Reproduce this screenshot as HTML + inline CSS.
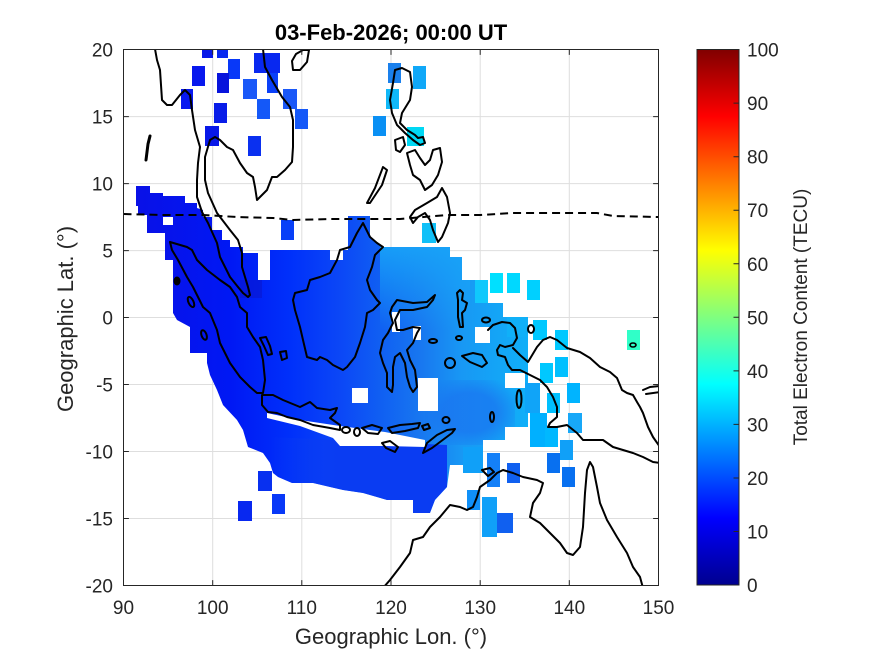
<!DOCTYPE html>
<html><head><meta charset="utf-8"><style>
html,body{margin:0;padding:0;background:#fff;}
svg{display:block;font-family:"Liberation Sans",Arial,sans-serif;}
</style></head><body>
<svg width="875" height="656" viewBox="0 0 875 656" xmlns="http://www.w3.org/2000/svg">
<defs>
<linearGradient id="jet" x1="0" y1="1" x2="0" y2="0">
<stop offset="0" stop-color="#00008f"/>
<stop offset="0.125" stop-color="#0000ff"/>
<stop offset="0.375" stop-color="#00ffff"/>
<stop offset="0.625" stop-color="#ffff00"/>
<stop offset="0.875" stop-color="#ff0000"/>
<stop offset="1" stop-color="#800000"/>
</linearGradient>
<linearGradient id="blobg" gradientUnits="userSpaceOnUse" x1="130" y1="0" x2="530" y2="0">
<stop offset="0" stop-color="#0a10e6"/>
<stop offset="0.25" stop-color="#0018f4"/>
<stop offset="0.40" stop-color="#0030fa"/>
<stop offset="0.53" stop-color="#0c48f6"/>
<stop offset="0.63" stop-color="#1060f2"/>
<stop offset="0.73" stop-color="#1878f0"/>
<stop offset="0.83" stop-color="#1898f4"/>
<stop offset="1" stop-color="#10b0f8"/>
</linearGradient>
<linearGradient id="neg" gradientUnits="userSpaceOnUse" x1="0" y1="247" x2="0" y2="330">
<stop offset="0" stop-color="#18a4f8" stop-opacity="0.9"/>
<stop offset="1" stop-color="#18a4f8" stop-opacity="0"/>
</linearGradient>
<linearGradient id="southg" gradientUnits="userSpaceOnUse" x1="270" y1="0" x2="340" y2="0">
<stop offset="0" stop-color="#0a3cf2" stop-opacity="0"/>
<stop offset="1" stop-color="#0a3cf2" stop-opacity="1"/>
</linearGradient>
<radialGradient id="eastg" cx="0.5" cy="0.5" r="0.6">
<stop offset="0.5" stop-color="#1a72f0" stop-opacity="0.7"/>
<stop offset="1" stop-color="#1a72f0" stop-opacity="0"/>
</radialGradient>
<clipPath id="plotclip"><rect x="123.5" y="49.5" width="535" height="536"/></clipPath>
<clipPath id="blobclip"><polygon points="136,186 150,186 150,193 163,193 163,196 185,196 185,203 197,203 197,208 203,210 203,217 212,217 212,230 222,230 222,240 230,240 230,247 243,247 243,253 258,253 258,280 270,280 270,250 330,250 330,260 343,260 343,250 348,250 348,216 370,216 370,238 377,243 383,247 450,247 450,257 462,257 462,280 475,280 475,303 503,303 503,317 528,317 528,383 540,383 540,413 528,413 528,427 505,427 505,440 483,440 483,473 463,473 463,465 450,465 447,487 435,500 430,513 413,513 413,500 387,500 363,493 343,490 330,487 313,483 292,483 278,477 273,473 270,463 263,453 248,447 243,430 237,420 223,405 217,390 210,375 207,363 207,353 190,353 190,327 177,320 173,313 173,260 165,260 165,233 147,233 147,215 138,215 138,206 136,206"/></clipPath>
</defs>
<rect width="875" height="656" fill="#fff"/>

<!-- grid -->
<g stroke="#dedede" stroke-width="1">
<line x1="212.7" y1="49.5" x2="212.7" y2="585.5"/>
<line x1="301.8" y1="49.5" x2="301.8" y2="585.5"/>
<line x1="391" y1="49.5" x2="391" y2="585.5"/>
<line x1="480.2" y1="49.5" x2="480.2" y2="585.5"/>
<line x1="569.3" y1="49.5" x2="569.3" y2="585.5"/>
<line x1="123.5" y1="116.6" x2="658.5" y2="116.6"/>
<line x1="123.5" y1="183.6" x2="658.5" y2="183.6"/>
<line x1="123.5" y1="250.6" x2="658.5" y2="250.6"/>
<line x1="123.5" y1="317.5" x2="658.5" y2="317.5"/>
<line x1="123.5" y1="384.5" x2="658.5" y2="384.5"/>
<line x1="123.5" y1="451.5" x2="658.5" y2="451.5"/>
<line x1="123.5" y1="518.5" x2="658.5" y2="518.5"/>
</g>

<g clip-path="url(#plotclip)">
<!-- main blob -->
<g clip-path="url(#blobclip)">
<rect x="123" y="180" width="420" height="340" fill="url(#blobg)"/>
<rect x="380" y="247" width="90" height="90" fill="url(#neg)"/>
<rect x="425" y="380" width="90" height="65" fill="url(#eastg)"/>
<polygon points="270,437 447,445 447,487 435,500 430,513 413,513 413,500 387,500 363,493 343,490 330,487 313,483 292,483 270,483" fill="url(#southg)"/>
<rect x="240" y="280" width="22" height="18" fill="#0a14c8" opacity="0.5"/>
</g>
<!-- holes -->
<g fill="#fff">
<rect x="352" y="388" width="16" height="15"/>
<rect x="418" y="378" width="20" height="33"/>
<polygon points="267,413 300,420 340,426 385,432 425,440 425,447 385,446 340,446 333,438 300,426 267,418"/>
<rect x="392" y="312" width="8" height="20"/>
<rect x="413" y="326" width="8" height="14"/>
<rect x="475" y="327" width="15" height="16"/>
<rect x="505" y="373" width="20" height="15"/>
<rect x="163" y="217" width="10" height="8"/>
</g>
<!-- isolated squares -->
<g>
<rect x="202" y="49" width="11" height="9" fill="#0818e8"/>
<rect x="217" y="49" width="11" height="9" fill="#0828f0"/>
<rect x="192" y="66" width="13" height="20" fill="#0818ee"/>
<rect x="228" y="59" width="12" height="20" fill="#0838f8"/>
<rect x="217" y="73" width="12" height="20" fill="#0814dc"/>
<rect x="254" y="53" width="26" height="20" fill="#0828f0"/>
<rect x="243" y="79" width="14" height="20" fill="#1a58f8"/>
<rect x="267" y="73" width="11" height="20" fill="#0a40f8"/>
<rect x="181" y="89" width="12" height="20" fill="#0818f0"/>
<rect x="257" y="99" width="13" height="20" fill="#1458f8"/>
<rect x="283" y="89" width="14" height="20" fill="#1a58f8"/>
<rect x="214" y="103" width="13" height="20" fill="#081ce8"/>
<rect x="295" y="109" width="13" height="20" fill="#1458f8"/>
<rect x="205" y="126" width="14" height="20" fill="#0818e8"/>
<rect x="248" y="136" width="13" height="20" fill="#0a30f0"/>
<rect x="388" y="63" width="13" height="20" fill="#1a80ec"/>
<rect x="413" y="66" width="13" height="23" fill="#10a8f8"/>
<rect x="386" y="89" width="13" height="20" fill="#10b8f8"/>
<rect x="373" y="116" width="13" height="20" fill="#0a90f4"/>
<rect x="407" y="127" width="17" height="19" fill="#00d8f4"/>
<rect x="422" y="223" width="14" height="20" fill="#10c0f8"/>
<rect x="281" y="220" width="13" height="20" fill="#0840f8"/>
<rect x="258" y="471" width="14" height="20" fill="#0830f0"/>
<rect x="272" y="494" width="13" height="20" fill="#0838f8"/>
<rect x="238" y="501" width="14" height="20" fill="#0828f0"/>
<rect x="475" y="280" width="13" height="23" fill="#10c8fc"/>
<rect x="490" y="273" width="13" height="20" fill="#00e0ff"/>
<rect x="507" y="273" width="13" height="20" fill="#00d8ff"/>
<rect x="527" y="280" width="13" height="20" fill="#00d0ff"/>
<rect x="507" y="317" width="21" height="20" fill="#10b0f8"/>
<rect x="533" y="320" width="14" height="20" fill="#00c8ff"/>
<rect x="555" y="330" width="13" height="20" fill="#00c8ff"/>
<rect x="540" y="363" width="13" height="20" fill="#00c8ff"/>
<rect x="555" y="357" width="13" height="20" fill="#00c0ff"/>
<rect x="567" y="383" width="13" height="20" fill="#00b4ff"/>
<rect x="525" y="383" width="15" height="30" fill="#10a4f8"/>
<rect x="547" y="393" width="13" height="20" fill="#00c0ff"/>
<rect x="530" y="413" width="17" height="34" fill="#00b0ff"/>
<rect x="545" y="427" width="13" height="20" fill="#00b8ff"/>
<rect x="568" y="413" width="14" height="20" fill="#18a8f8"/>
<rect x="560" y="440" width="13" height="20" fill="#10a0f8"/>
<rect x="547" y="453" width="13" height="20" fill="#0870f0"/>
<rect x="562" y="467" width="13" height="20" fill="#0870f0"/>
<rect x="627" y="330" width="13" height="20" fill="#30ffc8"/>
<rect x="487" y="453" width="13" height="34" fill="#1480f8"/>
<rect x="507" y="463" width="13" height="20" fill="#1060f0"/>
<rect x="463" y="447" width="20" height="26" fill="#10a0f8"/>
<rect x="467" y="490" width="13" height="20" fill="#1090f8"/>
<rect x="482" y="497" width="15" height="40" fill="#10a0f8"/>
<rect x="497" y="513" width="16" height="20" fill="#1060f0"/>
</g>

<!-- coastlines -->
<g fill="none" stroke="#000" stroke-width="2" stroke-linejoin="round" stroke-linecap="round">
<path d="M155,49 L157,60 L160,70 L162,100 L167,105 L172,105 L180,95 L185,90 L190,95 L192,110 L195,130 L200,147 L198,163 L197,180 L197,197 L202,212 L208,223 L217,243 L220,257 L225,267 L230,277 L238,287 L243,293 L248,297 L250,295 L248,287 L245,277 L242,267 L242,253 L238,240 L230,230 L217,213 L208,193 L205,180 L205,157 L210,140 L215,137 L220,140 L227,147 L233,150 L240,163 L247,173 L253,177 L255,187 L257,200 L260,197 L267,190 L272,177 L277,177 L285,170 L292,162 L293,147 L293,120 L290,107 L282,97 L272,80 L265,67 L263,49"/>
<path d="M292,61 L296,54 L303,50 L309,50 L307,62 L300,70 L293,70 Z"/>
<path d="M150,136 L148,144 L146,160" stroke-width="3"/>
<path d="M170,242 L187,247 L192,250 L197,260 L207,270 L220,280 L230,287 L237,297 L240,307 L247,313 L247,327 L253,337 L260,347 L263,360 L265,380 L263,393 L257,393 L250,387 L240,377 L230,363 L220,343 L217,330 L210,313 L203,307 L193,287 L187,277 L178,260 L172,250 Z"/>
<ellipse cx="177" cy="281" rx="2.5" ry="3.5" fill="#000"/>
<ellipse cx="191" cy="302" rx="2.5" ry="5.5" transform="rotate(-25 191 302)"/>
<ellipse cx="204" cy="335" rx="2.5" ry="5" transform="rotate(-20 204 335)"/>
<path d="M260,338 L266,337 L270,346 L272,354 L268,355 L264,346 Z"/>
<path d="M280,352 L286,351 L287,358 L282,360 Z"/>
<path d="M262,395 L273,395 L283,400 L300,407 L310,402 L317,408 L330,410 L337,408 L335,413 L330,418 L340,425 L340,430 L330,428 L313,425 L300,420 L287,417 L277,413 L268,412 L262,405 Z"/>
<ellipse cx="346" cy="430" rx="4" ry="3"/>
<ellipse cx="357" cy="432" rx="3" ry="4"/>
<path d="M362,428 L372,425 L382,428 L378,434 L368,433 Z"/>
<path d="M388,428 L400,425 L412,424 L420,423 L418,428 L405,431 L392,433 Z"/>
<path d="M422,426 L428,424 L430,428 L424,430 Z"/>
<path d="M382,443 L390,441 L398,447 L395,452 L386,448 Z"/>
<path d="M423,453 L427,443 L437,435 L447,430 L455,429 L452,433 L440,442 L432,448 Z"/>
<path d="M363,223 L370,237 L377,243 L383,247 L375,255 L372,267 L367,280 L370,290 L377,300 L380,303 L373,310 L367,313 L365,327 L360,343 L355,357 L347,367 L343,370 L333,365 L327,360 L320,357 L317,360 L307,357 L303,340 L300,327 L295,310 L293,300 L295,293 L307,290 L310,280 L320,277 L330,273 L337,260 L340,250 L350,247 L357,233 Z"/>
<path d="M435,295 L427,302 L413,303 L397,300 L392,307 L390,313 L393,323 L388,333 L383,340 L380,353 L383,363 L387,373 L387,387 L392,392 L393,385 L393,367 L395,357 L400,353 L405,363 L407,377 L410,387 L413,392 L417,387 L415,370 L410,360 L407,350 L413,343 L417,333 L420,328 L413,327 L403,330 L397,330 L395,320 L400,310 L413,310 L427,307 L433,300 Z"/>
<path d="M460,290 L463,293 L462,300 L467,303 L465,310 L462,313 L463,327 L460,327 L458,317 L458,300 L457,293 Z"/>
<ellipse cx="486" cy="320" rx="4" ry="2.5"/>
<ellipse cx="531" cy="329" rx="3" ry="4"/>
<ellipse cx="459" cy="338" rx="3" ry="2"/>
<ellipse cx="433" cy="341" rx="4" ry="2"/>
<ellipse cx="450" cy="363" rx="5" ry="5"/>
<path d="M462,356 L473,353 L482,355 L487,363 L482,367 L470,362 Z"/>
<ellipse cx="519" cy="399" rx="2.5" ry="9"/>
<ellipse cx="492" cy="417" rx="2" ry="5"/>
<ellipse cx="446" cy="420" rx="3.5" ry="3"/>
<ellipse cx="633" cy="345" rx="3" ry="2" stroke-width="1.6"/>
<path d="M488,330 L493,325 L502,322 L510,323 L515,328 L517,338 L513,345 L505,347 L500,345 L497,350 L498,355 L505,357 L508,365 L512,370 L520,370 L530,375 L540,380 L547,387 L553,397 L557,407 L557,417 L550,423 L548,427 L557,427 L567,425 L577,433 L583,440 L593,440 L603,440 L613,447 L623,450 L633,453 L643,457 L653,462 L660,463"/>
<path d="M513,348 L520,355 L528,362 L537,347 L543,340 L550,337 L557,340 L567,348 L580,352 L590,358 L600,367 L610,372 L617,378 L622,390 L627,393 L633,395 L637,402 L640,407 L643,413 L648,427 L653,437 L660,447"/>
<path d="M643,390 L650,387 L660,386 M646,394 L660,392"/>
<path d="M383,588 L390,580 L400,567 L410,553 L413,540 L423,537 L430,527 L440,517 L450,505 L460,507 L467,510 L473,507 L477,497 L480,487 L490,480 L497,473 L503,470 L513,473 L523,477 L537,480 L543,483 L540,493 L533,503 L530,517 L540,523 L550,533 L560,543 L567,553 L573,555 L580,547 L583,527 L585,493 L587,470 L590,462 L593,467 L597,487 L600,503 L607,520 L617,537 L627,553 L633,567 L640,577 L643,588"/>
<path d="M482,470 L490,468 L494,472 L488,476 Z"/>
<path d="M395,70 L402,68 L410,72 L412,87 L410,100 L402,113 L400,123 L407,130 L415,135 L418,138 L423,137 L425,143 L420,145 L413,140 L405,133 L397,125 L392,113 L390,100 L393,83 Z"/>
<path d="M395,140 L403,137 L405,145 L400,152 L396,150 Z"/>
<path d="M367,203 L375,188 L383,167 L387,170 L382,185 L370,203 Z"/>
<path d="M407,153 L415,150 L420,158 L425,165 L430,160 L433,150 L440,148 L442,162 L438,175 L432,185 L425,190 L420,180 L413,175 L410,165 Z"/>
<path d="M410,217 L415,210 L427,203 L437,197 L442,188 L447,197 L450,213 L448,223 L442,237 L438,242 L433,230 L430,220 L425,213 L418,217 L413,223 Z"/>
</g>
<!-- magnetic equator -->
<path d="M123.5,214 L163,215 L203,215 L237,217 L273,218 L293,220 L330,219 L400,219 L447,215 L480,215 L513,213 L597,213 L613,216 L658.5,217" fill="none" stroke="#000" stroke-width="2" stroke-dasharray="8,5"/>
</g>

<!-- axes box and ticks -->
<rect x="123.5" y="49.5" width="535" height="536" fill="none" stroke="#262626" stroke-width="1"/>
<g stroke="#262626" stroke-width="1">
<path d="M212.7,585.5v-5.4M301.8,585.5v-5.4M391,585.5v-5.4M480.2,585.5v-5.4M569.3,585.5v-5.4M212.7,49.5v5.4M301.8,49.5v5.4M391,49.5v5.4M480.2,49.5v5.4M569.3,49.5v5.4"/>
<path d="M123.5,116.6h5.4M123.5,183.6h5.4M123.5,250.6h5.4M123.5,317.5h5.4M123.5,384.5h5.4M123.5,451.5h5.4M123.5,518.5h5.4M658.5,116.6h-5.4M658.5,183.6h-5.4M658.5,250.6h-5.4M658.5,317.5h-5.4M658.5,384.5h-5.4M658.5,451.5h-5.4M658.5,518.5h-5.4"/>
</g>

<g fill="#262626" font-size="19" text-anchor="middle">
<text x="123.5" y="614">90</text>
<text x="212.7" y="614">100</text>
<text x="301.8" y="614">110</text>
<text x="391" y="614">120</text>
<text x="480.2" y="614">130</text>
<text x="569.3" y="614">140</text>
<text x="658.5" y="614">150</text>
</g>
<g fill="#262626" font-size="19" text-anchor="end">
<text x="113" y="56.5">20</text>
<text x="113" y="123.5">15</text>
<text x="113" y="190.5">10</text>
<text x="113" y="257.5">5</text>
<text x="113" y="324.5">0</text>
<text x="113" y="391.5">-5</text>
<text x="113" y="458.5">-10</text>
<text x="113" y="525.5">-15</text>
<text x="113" y="592.5">-20</text>
</g>
<text x="391" y="644" fill="#262626" font-size="22" text-anchor="middle">Geographic Lon. (°)</text>
<text transform="translate(73,319) rotate(-90)" fill="#262626" font-size="22" text-anchor="middle">Geographic Lat. (°)</text>
<text x="391" y="40" fill="#000" font-size="22" font-weight="bold" text-anchor="middle">03-Feb-2026; 00:00 UT</text>

<!-- colorbar -->
<rect x="697" y="49.5" width="42" height="535.5" fill="url(#jet)" stroke="#262626" stroke-width="1"/>
<g stroke="#262626" stroke-width="1">
<path d="M739,531.5h-5.5M739,478h-5.5M739,424.4h-5.5M739,370.9h-5.5M739,317.3h-5.5M739,263.8h-5.5M739,210.2h-5.5M739,156.7h-5.5M739,103.1h-5.5"/>
</g>
<g fill="#262626" font-size="19">
<text x="747" y="592">0</text>
<text x="747" y="538.5">10</text>
<text x="747" y="485">20</text>
<text x="747" y="431.4">30</text>
<text x="747" y="377.9">40</text>
<text x="747" y="324.3">50</text>
<text x="747" y="270.8">60</text>
<text x="747" y="217.2">70</text>
<text x="747" y="163.7">80</text>
<text x="747" y="110.1">90</text>
<text x="747" y="56.5">100</text>
</g>
<text transform="translate(807,317) rotate(-90)" fill="#262626" font-size="19" text-anchor="middle">Total Electron Content (TECU)</text>
</svg>
</body></html>
